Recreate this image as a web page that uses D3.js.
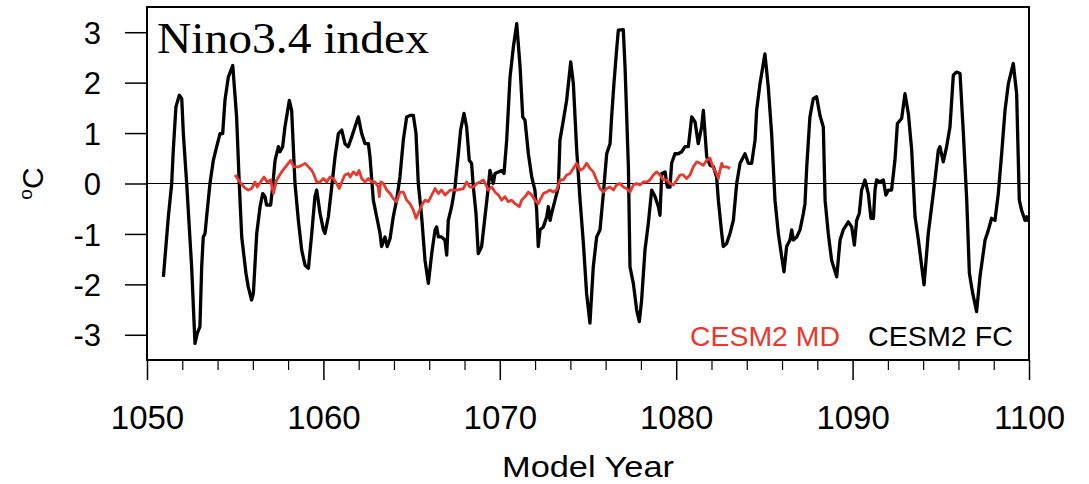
<!DOCTYPE html>
<html>
<head>
<meta charset="utf-8">
<script src="https://cdn.jsdelivr.net/npm/d3@7"></script>
<style>
html,body{margin:0;padding:0;background:#fff;}
svg{display:block;}
</style>
</head>
<body>
<svg id="chart" width="1089" height="484"></svg>
<script>
// ---- data ----
const fcYears = [1050.93,1051.21,1051.40,1051.49,1051.64,1051.83,1051.97,1052.06,1052.25,1052.53,1052.72,1052.85,1053.00,1053.10,1053.19,1053.29,1053.38,1053.57,1053.76,1053.95,1054.14,1054.29,1054.42,1054.61,1054.86,1055.08,1055.23,1055.37,1055.61,1055.74,1055.93,1056.03,1056.22,1056.41,1056.56,1056.69,1056.78,1057.01,1057.12,1057.26,1057.45,1057.54,1057.69,1057.82,1058.07,1058.20,1058.39,1058.58,1058.77,1058.96,1059.15,1059.34,1059.52,1059.62,1059.81,1060.00,1060.09,1060.28,1060.47,1060.66,1060.85,1061.04,1061.22,1061.41,1061.60,1061.79,1061.98,1062.17,1062.36,1062.55,1062.64,1062.83,1063.02,1063.21,1063.30,1063.49,1063.62,1063.78,1063.96,1064.15,1064.34,1064.53,1064.72,1064.91,1065.10,1065.25,1065.38,1065.57,1065.76,1065.95,1066.14,1066.33,1066.42,1066.52,1066.70,1066.89,1066.99,1067.08,1067.27,1067.46,1067.65,1067.78,1067.97,1068.12,1068.27,1068.40,1068.50,1068.65,1068.78,1068.97,1069.16,1069.35,1069.44,1069.54,1069.63,1069.73,1069.92,1070.11,1070.24,1070.39,1070.58,1070.77,1070.96,1071.15,1071.30,1071.43,1071.62,1071.81,1071.99,1072.09,1072.18,1072.28,1072.47,1072.66,1072.75,1072.85,1072.94,1073.13,1073.32,1073.41,1073.60,1073.79,1074.02,1074.17,1074.36,1074.55,1074.74,1074.92,1075.11,1075.30,1075.49,1075.68,1075.87,1076.06,1076.25,1076.34,1076.47,1076.62,1076.72,1077.00,1077.10,1077.29,1077.38,1077.57,1077.76,1077.91,1078.04,1078.23,1078.42,1078.61,1078.80,1078.99,1079.08,1079.18,1079.37,1079.50,1079.65,1079.74,1079.93,1080.12,1080.31,1080.50,1080.69,1080.88,1081.07,1081.25,1081.44,1081.54,1081.73,1081.92,1082.11,1082.29,1082.39,1082.58,1082.67,1082.86,1083.05,1083.24,1083.43,1083.62,1083.90,1084.09,1084.28,1084.47,1084.56,1084.75,1085.03,1085.22,1085.41,1085.60,1085.79,1085.98,1086.11,1086.26,1086.45,1086.55,1086.64,1086.83,1087.02,1087.21,1087.30,1087.40,1087.58,1087.77,1087.96,1088.15,1088.34,1088.44,1088.62,1088.81,1089.10,1089.29,1089.47,1089.76,1089.95,1090.10,1090.23,1090.38,1090.51,1090.70,1090.89,1091.04,1091.18,1091.27,1091.36,1091.55,1091.74,1091.89,1092.03,1092.21,1092.40,1092.54,1092.78,1092.97,1093.16,1093.35,1093.54,1093.73,1093.92,1094.05,1094.29,1094.48,1094.67,1094.86,1094.95,1095.14,1095.33,1095.52,1095.71,1095.90,1096.09,1096.28,1096.47,1096.62,1096.81,1097.03,1097.22,1097.51,1097.70,1097.88,1098.07,1098.26,1098.45,1098.64,1098.83,1099.11,1099.30,1099.45,1099.58,1099.77,1099.87,1099.96];
const fcValues = [-1.85,-0.66,0,0.66,1.52,1.75,1.68,0.99,0,-1.65,-3.17,-2.97,-2.84,-1.65,-1.06,-0.99,-0.66,0,0.46,0.73,0.99,0.99,1.65,2.11,2.34,1.32,0,-1.06,-1.78,-2.05,-2.31,-2.18,-0.99,-0.46,-0.20,-0.26,-0.43,-0.43,-0.07,0.46,0.73,0.63,0.73,1.12,1.65,1.45,0,-0.73,-1.32,-1.62,-1.68,-0.99,-0.26,-0.13,-0.59,-0.92,-0.99,-0.66,-0.07,0.53,0.99,1.06,0.79,0.73,0.92,1.12,1.32,0.99,0.79,0.79,0.53,-0.33,-0.66,-0.99,-1.25,-1.06,-1.25,-1.09,-0.66,-0.33,0.13,0.86,1.32,1.35,1.35,0.99,0,-0.66,-1.52,-1.98,-1.39,-0.92,-0.86,-1.06,-1.06,-1.12,-1.42,-0.73,-0.46,-0.07,0.59,1.06,1.39,1.12,0.46,0.40,-0.07,-0.59,-1.39,-1.25,-0.66,-0.07,0.26,0.13,0,0.20,0.23,0.26,0.20,0.86,2.11,2.71,3.17,2.31,1.32,1.25,0.59,0.13,-0.13,-0.53,-1.25,-0.92,-0.86,-0.66,-0.46,-0.73,-0.59,-0.33,-0.07,0.86,1.25,1.65,2.41,1.98,0.66,-0.33,-1.19,-2.18,-2.77,-1.65,-1.06,-0.92,-0.20,0.59,0.79,1.32,1.98,2.64,3.04,3.05,2.31,0.33,-1.65,-1.98,-2.51,-2.74,-2.31,-1.32,-0.79,-0.13,-0.26,-0.46,-0.63,0.20,0.23,-0.07,-0.07,0.40,0.59,0.59,0.63,0.73,0.73,1.32,1.22,0.79,1.12,1.45,0.53,0.36,0.33,0.13,-0.33,-0.99,-1.25,-1.19,-0.99,-0.73,0,0.40,0.59,0.40,0.40,0.86,1.45,1.98,2.57,1.91,0.99,-0.33,-0.99,-1.45,-1.75,-1.25,-1.12,-0.92,-1.12,-1.06,-0.92,-0.59,-0.40,0.33,1.32,1.68,1.72,1.35,1.12,-0.33,-0.99,-1.52,-1.85,-1.12,-0.92,-0.76,-0.86,-1.22,-0.73,-0.59,-0.13,0.07,-0.20,-0.69,-0.69,-0.13,0.07,0.03,0.07,-0.23,-0.13,-0.13,0.46,1.19,1.29,1.78,1.39,0.66,-0.66,-1.12,-1.65,-2.01,-0.99,-0.46,0.07,0.66,0.73,0.43,0.73,1.12,2.15,2.21,2.18,0.99,-0.33,-1.78,-2.18,-2.54,-1.85,-1.12,-0.92,-0.69,-0.73,-0.20,0.59,1.45,1.98,2.38,1.78,-0.33,-0.53,-0.73,-0.66,-0.76];

const mdYears = [1054.99,1055.27,1055.50,1055.74,1055.93,1056.12,1056.25,1056.44,1056.63,1056.82,1057.01,1057.16,1057.35,1057.63,1057.92,1058.14,1058.33,1058.58,1058.77,1058.96,1059.15,1059.34,1059.47,1059.62,1059.81,1060.00,1060.19,1060.37,1060.56,1060.75,1060.90,1061.04,1061.22,1061.41,1061.51,1061.70,1061.89,1062.02,1062.17,1062.36,1062.55,1062.74,1062.93,1063.11,1063.17,1063.25,1063.40,1063.59,1063.78,1063.96,1064.15,1064.34,1064.53,1064.72,1064.91,1065.10,1065.25,1065.38,1065.57,1065.76,1065.95,1066.14,1066.33,1066.52,1066.70,1066.89,1067.08,1067.18,1067.55,1067.93,1068.12,1068.31,1068.50,1068.69,1068.88,1069.07,1069.22,1069.35,1069.54,1069.73,1069.92,1070.11,1070.29,1070.48,1070.67,1070.86,1071.11,1071.24,1071.43,1071.62,1071.81,1071.99,1072.18,1072.28,1072.47,1072.66,1072.85,1073.03,1073.22,1073.41,1073.60,1073.79,1073.98,1074.17,1074.36,1074.55,1074.74,1074.92,1075.11,1075.30,1075.49,1075.68,1075.87,1076.06,1076.25,1076.44,1076.62,1076.81,1077.00,1077.19,1077.38,1077.57,1077.76,1077.95,1078.14,1078.33,1078.51,1078.70,1078.89,1079.08,1079.27,1079.46,1079.65,1079.84,1080.03,1080.22,1080.40,1080.59,1080.78,1080.97,1081.16,1081.35,1081.54,1081.73,1081.92,1082.01,1082.11,1082.29,1082.39,1082.48,1082.58,1082.67,1082.86,1083.05];
const mdValues = [0.17,0.03,-0.07,-0.13,-0.10,0.03,-0.07,0.03,0.13,0.03,0.07,-0.20,0.07,0.23,0.36,0.46,0.33,0.33,0.36,0.40,0.33,0.26,0.17,0.03,0.03,0.10,0.03,0.13,0.10,0,-0.10,0.03,0.17,0.20,0.13,0.23,0.17,0.26,0.10,0.03,0.10,0.03,0.03,-0.07,-0.26,0.03,0,-0.13,-0.20,-0.30,-0.36,-0.17,-0.17,-0.33,-0.40,-0.53,-0.69,-0.59,-0.43,-0.33,-0.36,-0.23,-0.10,-0.20,-0.13,-0.23,-0.17,-0.13,-0.13,-0.10,0.03,-0.07,-0.07,0,0.03,0.07,-0.03,-0.13,-0.07,-0.17,-0.23,-0.33,-0.26,-0.36,-0.33,-0.40,-0.46,-0.33,-0.26,-0.17,-0.23,-0.33,-0.40,-0.33,-0.20,-0.17,-0.13,-0.17,-0.13,0.07,0.07,0.17,0.20,0.30,0.40,0.26,0.30,0.40,0.30,0.23,0.07,-0.10,-0.17,-0.10,-0.07,-0.13,-0.03,0,-0.07,-0.10,-0.17,-0.03,0,-0.03,0.03,0.03,0.07,0.17,0.23,0.17,0.07,0.07,0,-0.03,0.07,0.17,0.17,0.10,0.17,0.33,0.43,0.40,0.36,0.46,0.50,0.40,0.30,0.20,0.10,0.26,0.40,0.33,0.33,0.30];

const yTicks = [-3,-2,-1,0,1,2,3];
const xMajorTicks = [1050,1060,1070,1080,1090,1100];
const xMinorTicks = [1052,1054,1056,1058,1062,1064,1066,1068,1072,1074,1076,1078,1082,1084,1086,1088,1092,1094,1096,1098];
const titleText = "Nino3.4 index";
const xLabel = "Model Year";
const legendNames = ["CESM2 MD","CESM2 FC"];
const seriesColors = ["#e8392e","#000000"];

// ---- layout ----
const L = 147, R = 1029, T = 7, B = 360;
const svg = d3.select("#chart");
const x = d3.scaleLinear().domain([1050,1100]).range([L,R]);
const y = d3.scaleLinear().domain([-3.5,3.5]).range([B,T]);
const sans = "'Liberation Sans', Arial, Helvetica, sans-serif";

// zero line
svg.append("line").attr("x1",L).attr("x2",R).attr("y1",y(0)).attr("y2",y(0))
  .attr("stroke","#000").attr("stroke-width",1.2);

const line = d3.line().x(d=>x(d[0])).y(d=>y(d[1]));
const fc = fcYears.map((t,i)=>[t,fcValues[i]]);
const md = mdYears.map((t,i)=>[t,mdValues[i]]);

svg.append("path").datum(fc).attr("d",line).attr("fill","none")
  .attr("stroke",seriesColors[1]).attr("stroke-width",3.3).attr("stroke-linejoin","round");
svg.append("path").datum(md).attr("d",line).attr("fill","none")
  .attr("stroke",seriesColors[0]).attr("stroke-width",2.8).attr("stroke-linejoin","round");

// frame
svg.append("rect").attr("x",L).attr("y",T).attr("width",R-L).attr("height",B-T)
  .attr("fill","none").attr("stroke","#000").attr("stroke-width",2);

// y axis
const yAxis = d3.axisLeft(y).tickValues(yTicks).tickSize(22).tickPadding(24).tickFormat(d => String(d));
const gy = svg.append("g").attr("transform",`translate(${L},0)`).call(yAxis);
gy.select(".domain").remove();
gy.selectAll(".tick line").attr("stroke","#000").attr("stroke-width",1.5);
gy.selectAll(".tick text").attr("font-family",sans).attr("font-size",31).attr("fill","#000")
  .attr("dy","0.36em");

// x axis major
const xAxis = d3.axisBottom(x).tickValues(xMajorTicks).tickSize(20).tickPadding(26).tickFormat(d => String(d));
const gx = svg.append("g").attr("transform",`translate(0,${B})`).call(xAxis);
gx.select(".domain").remove();
gx.selectAll(".tick line").attr("stroke","#000").attr("stroke-width",1.5);
gx.selectAll(".tick text").attr("font-family",sans).attr("font-size",33).attr("fill","#000")
  .attr("dy","0.71em");
// x axis minor
const xMinor = d3.axisBottom(x).tickValues(xMinorTicks).tickSize(10).tickFormat("");
const gxm = svg.append("g").attr("transform",`translate(0,${B})`).call(xMinor);
gxm.select(".domain").remove();
gxm.selectAll(".tick line").attr("stroke","#000").attr("stroke-width",1.2);

// axis titles
svg.append("text").attr("x",(L+R)/2).attr("y",477).attr("text-anchor","middle")
  .attr("font-family",sans).attr("font-size",30).attr("textLength",172).attr("lengthAdjust","spacingAndGlyphs")
  .text(xLabel);

const yl = svg.append("text").attr("transform",`translate(43,${y(0)}) rotate(-90)`)
  .attr("text-anchor","middle").attr("font-family",sans).attr("font-size",30);
yl.append("tspan").attr("font-size",19).attr("dy","-11").text("o");
yl.append("tspan").attr("dy","11").text("C");

// title
svg.append("text").attr("x",157).attr("y",53).attr("font-family","'Liberation Serif', 'Times New Roman', serif")
  .attr("font-size",45).attr("textLength",272).attr("lengthAdjust","spacingAndGlyphs").text(titleText);

// legend labels
svg.append("text").attr("x",690).attr("y",346).attr("font-family",sans).attr("font-size",28)
  .attr("fill",seriesColors[0]).attr("textLength",150).attr("lengthAdjust","spacingAndGlyphs").text(legendNames[0]);
svg.append("text").attr("x",868).attr("y",346).attr("font-family",sans).attr("font-size",28)
  .attr("fill",seriesColors[1]).attr("textLength",145).attr("lengthAdjust","spacingAndGlyphs").text(legendNames[1]);
</script>
</body>
</html>
